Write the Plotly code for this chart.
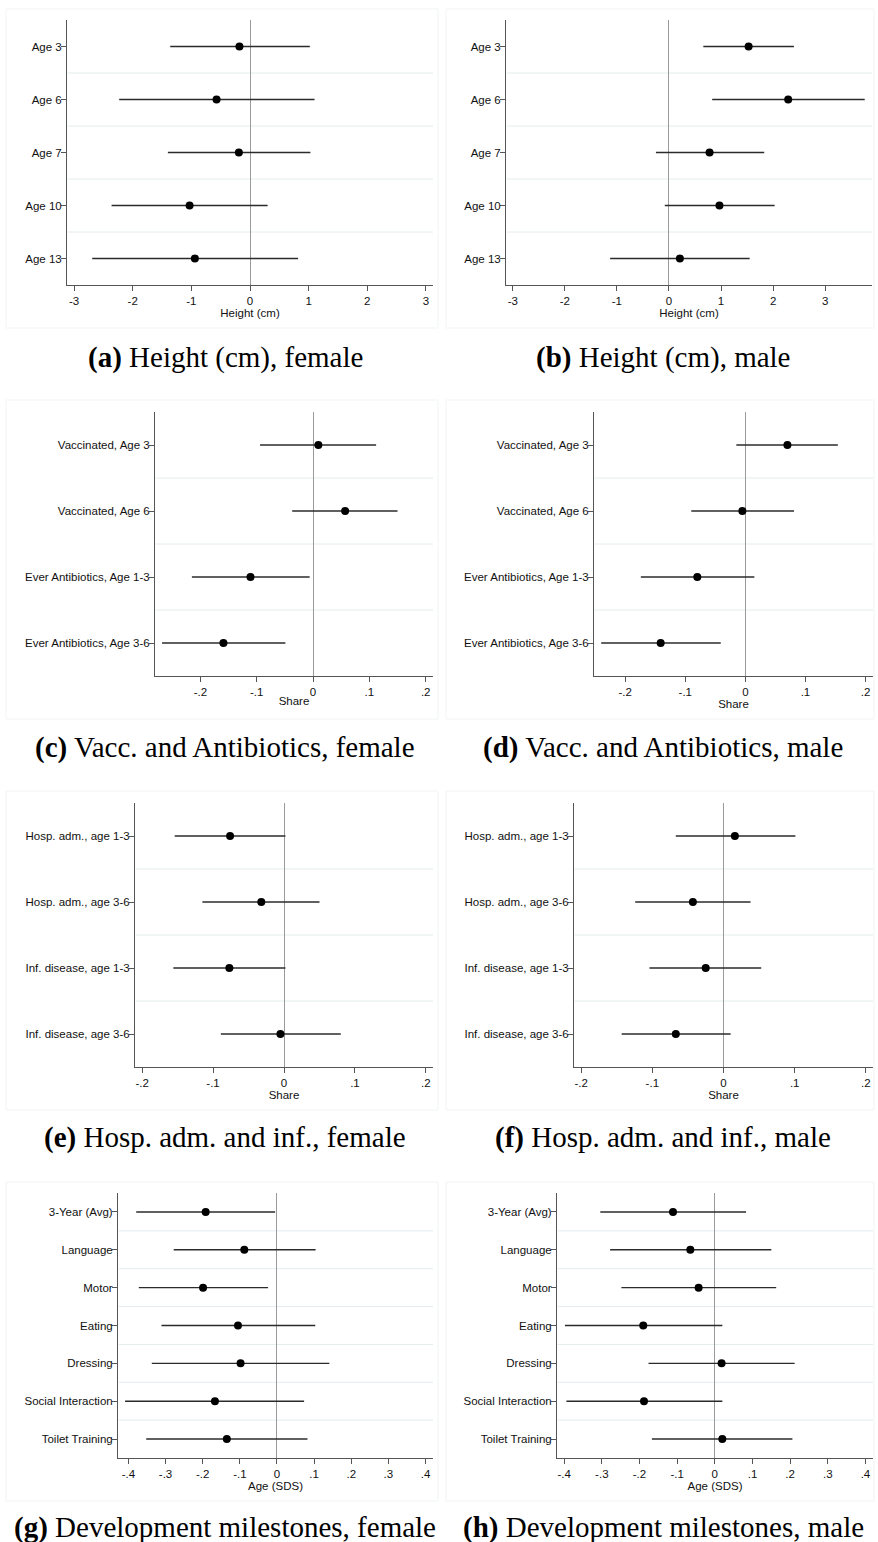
import plotly.graph_objects as go

W, H = 878, 1542

# ---------------- data ----------------
labels_height = ["Age 3", "Age 6", "Age 7", "Age 10", "Age 13"]
height_f_est = [-0.18, -0.57, -0.19, -1.03, -0.94]
height_f_lo = [-1.36, -2.23, -1.40, -2.36, -2.69]
height_f_hi = [1.02, 1.10, 1.03, 0.30, 0.82]
height_m_est = [1.53, 2.29, 0.78, 0.97, 0.21]
height_m_lo = [0.66, 0.83, -0.25, -0.08, -1.13]
height_m_hi = [2.40, 3.76, 1.83, 2.03, 1.55]

labels_vacc = ["Vaccinated, Age 3", "Vaccinated, Age 6",
               "Ever Antibiotics, Age 1-3", "Ever Antibiotics, Age 3-6"]
vacc_f_est = [0.0095, 0.057, -0.111, -0.159]
vacc_f_lo = [-0.094, -0.037, -0.215, -0.268]
vacc_f_hi = [0.112, 0.150, -0.006, -0.049]
vacc_m_est = [0.070, -0.005, -0.080, -0.141]
vacc_m_lo = [-0.015, -0.090, -0.174, -0.240]
vacc_m_hi = [0.154, 0.081, 0.015, -0.041]

labels_hosp = ["Hosp. adm., age 1-3", "Hosp. adm., age 3-6",
               "Inf. disease, age 1-3", "Inf. disease, age 3-6"]
hosp_f_est = [-0.076, -0.032, -0.077, -0.005]
hosp_f_lo = [-0.154, -0.115, -0.156, -0.089]
hosp_f_hi = [0.002, 0.050, 0.002, 0.080]
hosp_m_est = [0.016, -0.043, -0.025, -0.067]
hosp_m_lo = [-0.067, -0.124, -0.104, -0.143]
hosp_m_hi = [0.101, 0.038, 0.053, 0.010]

labels_dev = ["3-Year (Avg)", "Language", "Motor", "Eating", "Dressing",
              "Social Interaction", "Toilet Training"]
dev_f_est = [-0.192, -0.088, -0.199, -0.105, -0.098, -0.167, -0.135]
dev_f_lo = [-0.379, -0.278, -0.372, -0.311, -0.337, -0.409, -0.352]
dev_f_hi = [-0.005, 0.104, -0.024, 0.103, 0.141, 0.073, 0.082]
dev_m_est = [-0.111, -0.065, -0.043, -0.190, 0.018, -0.188, 0.020]
dev_m_lo = [-0.304, -0.278, -0.248, -0.398, -0.176, -0.394, -0.167]
dev_m_hi = [0.083, 0.150, 0.163, 0.020, 0.212, 0.020, 0.206]

ticks_height = [-3, -2, -1, 0, 1, 2, 3]
ticktext_height = ["-3", "-2", "-1", "0", "1", "2", "3"]
ticks_share = [-0.2, -0.1, 0, 0.1, 0.2]
ticktext_share = ["-.2", "-.1", "0", ".1", ".2"]
ticks_sds = [-0.4, -0.3, -0.2, -0.1, 0, 0.1, 0.2, 0.3, 0.4]
ticktext_sds = ["-.4", "-.3", "-.2", "-.1", "0", ".1", ".2", ".3", ".4"]

captions = [
    ("(a)", "Height (cm), female"), ("(b)", "Height (cm), male"),
    ("(c)", "Vacc. and Antibiotics, female"), ("(d)", "Vacc. and Antibiotics, male"),
    ("(e)", "Hosp. adm. and inf., female"), ("(f)", "Hosp. adm. and inf., male"),
    ("(g)", "Development milestones, female"), ("(h)", "Development milestones, male"),
]

# ---------------- panel layout (pixels) ----------------
panels = [
    dict(lab=labels_height, est=height_f_est, lo=height_f_lo, hi=height_f_hi,
         box=(67, 433, 20, 285), xr=[-3.12, 3.12], tv=ticks_height, tt=ticktext_height, xt="Height (cm)"),
    dict(lab=labels_height, est=height_m_est, lo=height_m_lo, hi=height_m_hi,
         box=(506, 872, 20, 285), xr=[-3.13, 3.90], tv=ticks_height, tt=ticktext_height, xt="Height (cm)"),
    dict(lab=labels_vacc, est=vacc_f_est, lo=vacc_f_lo, hi=vacc_f_hi,
         box=(155, 433, 412, 676), xr=[-0.2805, 0.213], tv=ticks_share, tt=ticktext_share, xt="Share"),
    dict(lab=labels_vacc, est=vacc_m_est, lo=vacc_m_lo, hi=vacc_m_hi,
         box=(594, 873, 412, 676), xr=[-0.252, 0.2125], tv=ticks_share, tt=ticktext_share, xt="Share"),
    dict(lab=labels_hosp, est=hosp_f_est, lo=hosp_f_lo, hi=hosp_f_hi,
         box=(135, 433, 803, 1067), xr=[-0.21, 0.21], tv=ticks_share, tt=ticktext_share, xt="Share"),
    dict(lab=labels_hosp, est=hosp_m_est, lo=hosp_m_lo, hi=hosp_m_hi,
         box=(574, 873, 803, 1067), xr=[-0.21, 0.21], tv=ticks_share, tt=ticktext_share, xt="Share"),
    dict(lab=labels_dev, est=dev_f_est, lo=dev_f_lo, hi=dev_f_hi,
         box=(118, 433, 1193, 1458), xr=[-0.428, 0.42], tv=ticks_sds, tt=ticktext_sds, xt="Age (SDS)"),
    dict(lab=labels_dev, est=dev_m_est, lo=dev_m_lo, hi=dev_m_hi,
         box=(557, 873, 1193, 1458), xr=[-0.419, 0.42], tv=ticks_sds, tt=ticktext_sds, xt="Age (SDS)"),
]
caption_pos = [(225, 357), (663, 357), (225, 747), (663, 747),
               (225, 1137), (663, 1137), (225, 1527), (663, 1527)]
region_boxes = [(6, 438, 9, 328), (446, 874, 9, 328)]

AXC = "#555555"
TICKFONT = dict(family="Liberation Sans, Arial, sans-serif", size=11.5, color="#111111")

fig = go.Figure()
layout = dict(width=W, height=H, margin=dict(l=0, r=0, t=0, b=0),
              paper_bgcolor="white", plot_bgcolor="white", showlegend=False,
              autosize=False)
shapes = []
annotations = []

for k, p in enumerate(panels, start=1):
    sfx = "" if k == 1 else str(k)
    n = len(p["lab"])
    ypos = list(range(1, n + 1))
    est, lo, hi = p["est"], p["lo"], p["hi"]
    fig.add_trace(go.Scatter(
        x=est, y=ypos, mode="markers",
        xaxis="x" + sfx, yaxis="y" + sfx,
        marker=dict(color="black", size=8),
        error_x=dict(type="data", symmetric=False,
                     array=[h - e for h, e in zip(hi, est)],
                     arrayminus=[e - l for e, l in zip(est, lo)],
                     color="#2b2b2b", thickness=1.4, width=0),
        hoverinfo="skip",
    ))
    x0, x1, y0, y1 = p["box"]
    layout["xaxis" + sfx] = dict(
        domain=[x0 / W, x1 / W], anchor="y" + sfx, range=p["xr"],
        tickmode="array", tickvals=p["tv"], ticktext=p["tt"],
        showline=True, linecolor=AXC, linewidth=1,
        ticks="outside", ticklen=5, tickcolor=AXC, tickwidth=1,
        showgrid=False, zeroline=True, zerolinecolor="#9a9a9a", zerolinewidth=1,
        tickfont=TICKFONT, automargin=False, fixedrange=True,
        title=dict(text=p["xt"], font=TICKFONT, standoff=0),
    )
    layout["yaxis" + sfx] = dict(
        domain=[1 - y1 / H, 1 - y0 / H], anchor="x" + sfx,
        range=[n + 0.5, 0.5], tickmode="array", tickvals=ypos, ticktext=p["lab"],
        showline=True, linecolor=AXC, linewidth=1,
        ticks="outside", ticklen=5, tickcolor=AXC, tickwidth=1,
        ticklabelstandoff=-3,
        showgrid=False, zeroline=False, tickfont=TICKFONT,
        automargin=False, fixedrange=True,
    )
    for i in range(1, n):
        shapes.append(dict(type="line", xref="x" + sfx + " domain", x0=0.002, x1=1,
                           yref="y" + sfx, y0=i + 0.5, y1=i + 0.5,
                           line=dict(color="#e3ecee", width=1), layer="below"))
    cx, cy = caption_pos[k - 1]
    lbl, txt = captions[k - 1]
    annotations.append(dict(
        text="<b>" + lbl + "</b> " + txt, xref="paper", yref="paper",
        x=cx / W, y=1 - cy / H, xanchor="center", yanchor="middle", showarrow=False,
        font=dict(family="Liberation Serif, Times New Roman, serif", size=29, color="black"),
    ))

# faint graph-region outlines
for row in range(4):
    dy = row * 391
    for (bx0, bx1, by0, by1) in region_boxes:
        shapes.append(dict(type="rect", xref="paper", yref="paper",
                           x0=bx0 / W, x1=bx1 / W,
                           y0=1 - (by1 + dy) / H, y1=1 - (by0 + dy) / H,
                           line=dict(color="#f1f3f4", width=1), layer="below"))

layout["shapes"] = shapes
layout["annotations"] = annotations
fig.update_layout(**layout)
fig.write_html("out.html", config={"displayModeBar": False},
               post_script="document.body.style.margin='0';document.body.style.padding='0';")
